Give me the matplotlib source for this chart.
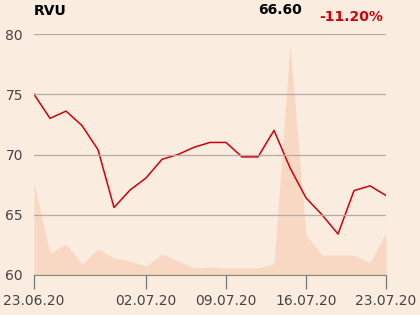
import numpy as np
import matplotlib
matplotlib.use("Agg")
import matplotlib.pyplot as plt

# trading days 23.06.20 - 23.07.20
dates = ["23.06", "24.06", "25.06", "26.06", "29.06", "30.06", "01.07", "02.07",
         "03.07", "06.07", "07.07", "08.07", "09.07", "10.07", "13.07", "14.07",
         "15.07", "16.07", "17.07", "20.07", "21.07", "22.07", "23.07"]
price = [75.0, 73.0, 73.6, 72.4, 70.4, 65.6, 67.05, 68.05, 69.6, 70.0, 70.6, 71.0,
         71.0, 69.8, 69.8, 72.0, 68.9, 66.4, 65.0, 63.4, 67.0, 67.4, 66.6]
volume = [91, 22, 31, 11, 26, 17, 14, 9, 21, 14, 7, 8, 7, 7, 7, 11, 230, 40, 20,
          20, 20, 12, 43]
tick_pos = [0, 7, 12, 17, 22]
tick_labels = ["23.06.20", "02.07.20", "09.07.20", "16.07.20", "23.07.20"]

bg = "#fbece0"
fig = plt.figure(figsize=(4.2, 3.15), dpi=100, facecolor=bg)
ax = fig.add_axes([34/420, 1 - 275/315, 352/420, 241/315])
ax2 = ax.twinx()
ax2.set_zorder(ax.get_zorder() - 1)
ax2.set_facecolor(bg)
ax.patch.set_visible(False)

x = np.arange(len(price))
ax2.fill_between(x, 0, volume, color="#f8d8c2", linewidth=0)
ax2.set_ylim(0, 241)
ax2.set_yticks([])
for s in ax2.spines.values():
    s.set_visible(False)

ax.plot(x, price, color="#d0000a", linewidth=1.1)
ax.set_xlim(0, len(price) - 1)
ax.set_ylim(60, 80)
ax.set_yticks([60, 65, 70, 75, 80])
ax.yaxis.grid(True, color="#b3aca6", linewidth=0.9)
ax.set_axisbelow(False)
ax.set_xticks(tick_pos)
ax.set_xticklabels(tick_labels)
ax.tick_params(axis="y", length=0, labelsize=10, labelcolor="#444444", pad=8)
ax.tick_params(axis="x", length=10, width=0.9, color="#777777", labelsize=10,
               labelcolor="#444444", pad=4)
for s in ["top", "right", "left"]:
    ax.spines[s].set_visible(False)
ax.spines["bottom"].set_color("#888888")

fig.text(34/420, 1 - 11/315, "RVU", fontsize=10, fontweight="bold", va="center", ha="left")
fig.text(302/420, 1 - 10/315, "66.60", fontsize=10, fontweight="bold", va="center", ha="right")
fig.text(383/420, 1 - 17/315, "-11.20%", fontsize=10, fontweight="bold", color="#d0000a",
         va="center", ha="right")

fig.savefig("out.png", dpi=100, facecolor=bg)
